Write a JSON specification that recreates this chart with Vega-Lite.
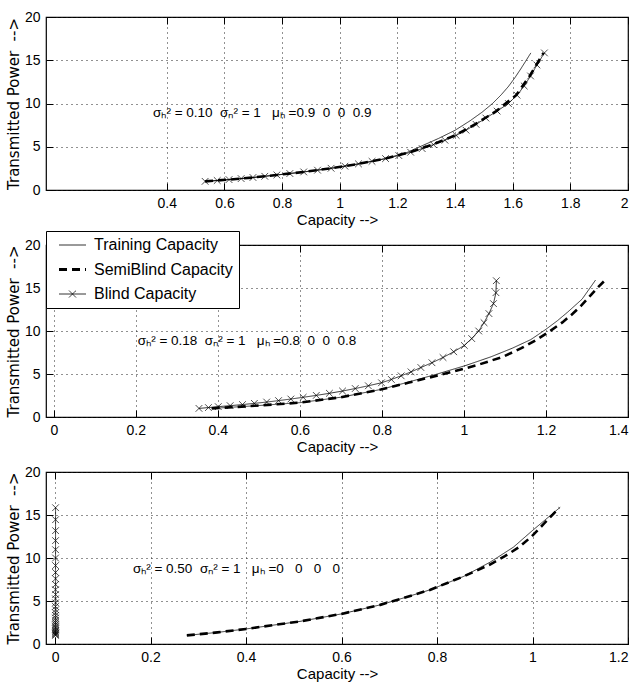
{
  "$schema": "https://vega.github.io/schema/vega-lite/v6.json",
  "background": "white",
  "padding": {"left": 5, "top": 9, "right": 2, "bottom": 2},
  "datasets": {
    "curves": [
      {"panel":1,"series":"Blind Capacity","C":0.533,"P":1},
      {"panel":1,"series":"Blind Capacity","C":0.575,"P":1.096},
      {"panel":1,"series":"Blind Capacity","C":0.616,"P":1.202},
      {"panel":1,"series":"Blind Capacity","C":0.658,"P":1.318},
      {"panel":1,"series":"Blind Capacity","C":0.699,"P":1.445},
      {"panel":1,"series":"Blind Capacity","C":0.740,"P":1.585},
      {"panel":1,"series":"Blind Capacity","C":0.782,"P":1.738},
      {"panel":1,"series":"Blind Capacity","C":0.827,"P":1.905},
      {"panel":1,"series":"Blind Capacity","C":0.875,"P":2.089},
      {"panel":1,"series":"Blind Capacity","C":0.923,"P":2.291},
      {"panel":1,"series":"Blind Capacity","C":0.970,"P":2.512},
      {"panel":1,"series":"Blind Capacity","C":1.018,"P":2.754},
      {"panel":1,"series":"Blind Capacity","C":1.065,"P":3.02},
      {"panel":1,"series":"Blind Capacity","C":1.112,"P":3.311},
      {"panel":1,"series":"Blind Capacity","C":1.159,"P":3.631},
      {"panel":1,"series":"Blind Capacity","C":1.205,"P":3.981},
      {"panel":1,"series":"Blind Capacity","C":1.246,"P":4.365},
      {"panel":1,"series":"Blind Capacity","C":1.286,"P":4.786},
      {"panel":1,"series":"Blind Capacity","C":1.325,"P":5.248},
      {"panel":1,"series":"Blind Capacity","C":1.365,"P":5.754},
      {"panel":1,"series":"Blind Capacity","C":1.404,"P":6.31},
      {"panel":1,"series":"Blind Capacity","C":1.438,"P":6.918},
      {"panel":1,"series":"Blind Capacity","C":1.473,"P":7.586},
      {"panel":1,"series":"Blind Capacity","C":1.507,"P":8.318},
      {"panel":1,"series":"Blind Capacity","C":1.546,"P":9.12},
      {"panel":1,"series":"Blind Capacity","C":1.585,"P":10},
      {"panel":1,"series":"Blind Capacity","C":1.615,"P":10.965},
      {"panel":1,"series":"Blind Capacity","C":1.640,"P":12.023},
      {"panel":1,"series":"Blind Capacity","C":1.662,"P":13.183},
      {"panel":1,"series":"Blind Capacity","C":1.684,"P":14.454},
      {"panel":1,"series":"Blind Capacity","C":1.710,"P":15.849},
      {"panel":1,"series":"SemiBlind Capacity","C":0.533,"P":1},
      {"panel":1,"series":"SemiBlind Capacity","C":0.616,"P":1.202},
      {"panel":1,"series":"SemiBlind Capacity","C":0.699,"P":1.445},
      {"panel":1,"series":"SemiBlind Capacity","C":0.782,"P":1.738},
      {"panel":1,"series":"SemiBlind Capacity","C":0.875,"P":2.089},
      {"panel":1,"series":"SemiBlind Capacity","C":0.970,"P":2.512},
      {"panel":1,"series":"SemiBlind Capacity","C":1.065,"P":3.02},
      {"panel":1,"series":"SemiBlind Capacity","C":1.159,"P":3.631},
      {"panel":1,"series":"SemiBlind Capacity","C":1.244,"P":4.365},
      {"panel":1,"series":"SemiBlind Capacity","C":1.322,"P":5.248},
      {"panel":1,"series":"SemiBlind Capacity","C":1.400,"P":6.31},
      {"panel":1,"series":"SemiBlind Capacity","C":1.469,"P":7.586},
      {"panel":1,"series":"SemiBlind Capacity","C":1.543,"P":9.12},
      {"panel":1,"series":"SemiBlind Capacity","C":1.612,"P":10.965},
      {"panel":1,"series":"SemiBlind Capacity","C":1.659,"P":13.183},
      {"panel":1,"series":"SemiBlind Capacity","C":1.707,"P":15.849},
      {"panel":1,"series":"Training Capacity","C":0.533,"P":1},
      {"panel":1,"series":"Training Capacity","C":0.616,"P":1.202},
      {"panel":1,"series":"Training Capacity","C":0.699,"P":1.445},
      {"panel":1,"series":"Training Capacity","C":0.782,"P":1.738},
      {"panel":1,"series":"Training Capacity","C":0.875,"P":2.089},
      {"panel":1,"series":"Training Capacity","C":0.970,"P":2.512},
      {"panel":1,"series":"Training Capacity","C":1.065,"P":3.02},
      {"panel":1,"series":"Training Capacity","C":1.159,"P":3.631},
      {"panel":1,"series":"Training Capacity","C":1.235,"P":4.365},
      {"panel":1,"series":"Training Capacity","C":1.278,"P":5.0},
      {"panel":1,"series":"Training Capacity","C":1.342,"P":5.95},
      {"panel":1,"series":"Training Capacity","C":1.400,"P":6.9},
      {"panel":1,"series":"Training Capacity","C":1.452,"P":8.0},
      {"panel":1,"series":"Training Capacity","C":1.494,"P":9.0},
      {"panel":1,"series":"Training Capacity","C":1.530,"P":10.0},
      {"panel":1,"series":"Training Capacity","C":1.560,"P":11.0},
      {"panel":1,"series":"Training Capacity","C":1.586,"P":12.0},
      {"panel":1,"series":"Training Capacity","C":1.608,"P":13.0},
      {"panel":1,"series":"Training Capacity","C":1.628,"P":14.0},
      {"panel":1,"series":"Training Capacity","C":1.647,"P":15.0},
      {"panel":1,"series":"Training Capacity","C":1.663,"P":15.85},
      {"panel":2,"series":"Blind Capacity","C":0.354,"P":1},
      {"panel":2,"series":"Blind Capacity","C":0.377,"P":1.096},
      {"panel":2,"series":"Blind Capacity","C":0.401,"P":1.202},
      {"panel":2,"series":"Blind Capacity","C":0.430,"P":1.318},
      {"panel":2,"series":"Blind Capacity","C":0.460,"P":1.445},
      {"panel":2,"series":"Blind Capacity","C":0.489,"P":1.585},
      {"panel":2,"series":"Blind Capacity","C":0.519,"P":1.738},
      {"panel":2,"series":"Blind Capacity","C":0.548,"P":1.905},
      {"panel":2,"series":"Blind Capacity","C":0.578,"P":2.089},
      {"panel":2,"series":"Blind Capacity","C":0.608,"P":2.291},
      {"panel":2,"series":"Blind Capacity","C":0.640,"P":2.512},
      {"panel":2,"series":"Blind Capacity","C":0.672,"P":2.754},
      {"panel":2,"series":"Blind Capacity","C":0.704,"P":3.02},
      {"panel":2,"series":"Blind Capacity","C":0.735,"P":3.311},
      {"panel":2,"series":"Blind Capacity","C":0.767,"P":3.631},
      {"panel":2,"series":"Blind Capacity","C":0.799,"P":3.981},
      {"panel":2,"series":"Blind Capacity","C":0.823,"P":4.365},
      {"panel":2,"series":"Blind Capacity","C":0.847,"P":4.786},
      {"panel":2,"series":"Blind Capacity","C":0.871,"P":5.248},
      {"panel":2,"series":"Blind Capacity","C":0.895,"P":5.754},
      {"panel":2,"series":"Blind Capacity","C":0.922,"P":6.31},
      {"panel":2,"series":"Blind Capacity","C":0.949,"P":6.918},
      {"panel":2,"series":"Blind Capacity","C":0.975,"P":7.586},
      {"panel":2,"series":"Blind Capacity","C":1.001,"P":8.318},
      {"panel":2,"series":"Blind Capacity","C":1.019,"P":9.12},
      {"panel":2,"series":"Blind Capacity","C":1.036,"P":10},
      {"panel":2,"series":"Blind Capacity","C":1.049,"P":10.965},
      {"panel":2,"series":"Blind Capacity","C":1.061,"P":12.023},
      {"panel":2,"series":"Blind Capacity","C":1.072,"P":13.183},
      {"panel":2,"series":"Blind Capacity","C":1.078,"P":14.454},
      {"panel":2,"series":"Blind Capacity","C":1.079,"P":15.849},
      {"panel":2,"series":"Training Capacity","C":0.385,"P":1},
      {"panel":2,"series":"Training Capacity","C":0.490,"P":1.3},
      {"panel":2,"series":"Training Capacity","C":0.600,"P":1.67},
      {"panel":2,"series":"Training Capacity","C":0.700,"P":2.3},
      {"panel":2,"series":"Training Capacity","C":0.797,"P":3.2},
      {"panel":2,"series":"Training Capacity","C":0.860,"P":4.0},
      {"panel":2,"series":"Training Capacity","C":0.935,"P":5.0},
      {"panel":2,"series":"Training Capacity","C":1.005,"P":6.0},
      {"panel":2,"series":"Training Capacity","C":1.066,"P":7.0},
      {"panel":2,"series":"Training Capacity","C":1.118,"P":8.0},
      {"panel":2,"series":"Training Capacity","C":1.163,"P":9.0},
      {"panel":2,"series":"Training Capacity","C":1.200,"P":10.2},
      {"panel":2,"series":"Training Capacity","C":1.228,"P":11.2},
      {"panel":2,"series":"Training Capacity","C":1.253,"P":12.2},
      {"panel":2,"series":"Training Capacity","C":1.288,"P":13.7},
      {"panel":2,"series":"Training Capacity","C":1.321,"P":15.93},
      {"panel":2,"series":"SemiBlind Capacity","C":0.385,"P":1},
      {"panel":2,"series":"SemiBlind Capacity","C":0.490,"P":1.3},
      {"panel":2,"series":"SemiBlind Capacity","C":0.600,"P":1.67},
      {"panel":2,"series":"SemiBlind Capacity","C":0.700,"P":2.3},
      {"panel":2,"series":"SemiBlind Capacity","C":0.797,"P":3.2},
      {"panel":2,"series":"SemiBlind Capacity","C":0.866,"P":4.0},
      {"panel":2,"series":"SemiBlind Capacity","C":0.950,"P":5.0},
      {"panel":2,"series":"SemiBlind Capacity","C":1.030,"P":6.0},
      {"panel":2,"series":"SemiBlind Capacity","C":1.095,"P":7.0},
      {"panel":2,"series":"SemiBlind Capacity","C":1.140,"P":8.0},
      {"panel":2,"series":"SemiBlind Capacity","C":1.178,"P":9.0},
      {"panel":2,"series":"SemiBlind Capacity","C":1.210,"P":10.0},
      {"panel":2,"series":"SemiBlind Capacity","C":1.240,"P":11.0},
      {"panel":2,"series":"SemiBlind Capacity","C":1.265,"P":12.0},
      {"panel":2,"series":"SemiBlind Capacity","C":1.287,"P":13.0},
      {"panel":2,"series":"SemiBlind Capacity","C":1.306,"P":14.0},
      {"panel":2,"series":"SemiBlind Capacity","C":1.325,"P":15.0},
      {"panel":2,"series":"SemiBlind Capacity","C":1.343,"P":15.85},
      {"panel":3,"series":"Blind Capacity","C":0.0009,"P":1},
      {"panel":3,"series":"Blind Capacity","C":0.0011,"P":1.096},
      {"panel":3,"series":"Blind Capacity","C":0.0009,"P":1.202},
      {"panel":3,"series":"Blind Capacity","C":0.0011,"P":1.318},
      {"panel":3,"series":"Blind Capacity","C":0.0009,"P":1.445},
      {"panel":3,"series":"Blind Capacity","C":0.0011,"P":1.585},
      {"panel":3,"series":"Blind Capacity","C":0.0009,"P":1.738},
      {"panel":3,"series":"Blind Capacity","C":0.0011,"P":1.905},
      {"panel":3,"series":"Blind Capacity","C":0.0009,"P":2.089},
      {"panel":3,"series":"Blind Capacity","C":0.0011,"P":2.291},
      {"panel":3,"series":"Blind Capacity","C":0.0009,"P":2.512},
      {"panel":3,"series":"Blind Capacity","C":0.0011,"P":2.754},
      {"panel":3,"series":"Blind Capacity","C":0.0009,"P":3.02},
      {"panel":3,"series":"Blind Capacity","C":0.0011,"P":3.311},
      {"panel":3,"series":"Blind Capacity","C":0.0009,"P":3.631},
      {"panel":3,"series":"Blind Capacity","C":0.0011,"P":3.981},
      {"panel":3,"series":"Blind Capacity","C":0.0009,"P":4.365},
      {"panel":3,"series":"Blind Capacity","C":0.0011,"P":4.786},
      {"panel":3,"series":"Blind Capacity","C":0.0009,"P":5.248},
      {"panel":3,"series":"Blind Capacity","C":0.0011,"P":5.754},
      {"panel":3,"series":"Blind Capacity","C":0.0009,"P":6.31},
      {"panel":3,"series":"Blind Capacity","C":0.0011,"P":6.918},
      {"panel":3,"series":"Blind Capacity","C":0.0010,"P":7.586},
      {"panel":3,"series":"Blind Capacity","C":0.0010,"P":8.318},
      {"panel":3,"series":"Blind Capacity","C":0.0010,"P":9.12},
      {"panel":3,"series":"Blind Capacity","C":0.0010,"P":10},
      {"panel":3,"series":"Blind Capacity","C":0.0010,"P":10.965},
      {"panel":3,"series":"Blind Capacity","C":0.0010,"P":12.023},
      {"panel":3,"series":"Blind Capacity","C":0.0010,"P":13.183},
      {"panel":3,"series":"Blind Capacity","C":0.0010,"P":14.454},
      {"panel":3,"series":"Blind Capacity","C":0.0010,"P":15.849},
      {"panel":3,"series":"Training Capacity","C":0.276,"P":1},
      {"panel":3,"series":"Training Capacity","C":0.340,"P":1.35},
      {"panel":3,"series":"Training Capacity","C":0.400,"P":1.75},
      {"panel":3,"series":"Training Capacity","C":0.513,"P":2.63},
      {"panel":3,"series":"Training Capacity","C":0.600,"P":3.5},
      {"panel":3,"series":"Training Capacity","C":0.681,"P":4.55},
      {"panel":3,"series":"Training Capacity","C":0.723,"P":5.24},
      {"panel":3,"series":"Training Capacity","C":0.785,"P":6.29},
      {"panel":3,"series":"Training Capacity","C":0.855,"P":7.84},
      {"panel":3,"series":"Training Capacity","C":0.911,"P":9.51},
      {"panel":3,"series":"Training Capacity","C":0.960,"P":11.26},
      {"panel":3,"series":"Training Capacity","C":1.000,"P":13.2},
      {"panel":3,"series":"Training Capacity","C":1.058,"P":15.9},
      {"panel":3,"series":"SemiBlind Capacity","C":0.276,"P":1},
      {"panel":3,"series":"SemiBlind Capacity","C":0.340,"P":1.35},
      {"panel":3,"series":"SemiBlind Capacity","C":0.400,"P":1.75},
      {"panel":3,"series":"SemiBlind Capacity","C":0.513,"P":2.63},
      {"panel":3,"series":"SemiBlind Capacity","C":0.600,"P":3.5},
      {"panel":3,"series":"SemiBlind Capacity","C":0.681,"P":4.55},
      {"panel":3,"series":"SemiBlind Capacity","C":0.723,"P":5.24},
      {"panel":3,"series":"SemiBlind Capacity","C":0.785,"P":6.29},
      {"panel":3,"series":"SemiBlind Capacity","C":0.855,"P":7.84},
      {"panel":3,"series":"SemiBlind Capacity","C":0.911,"P":9.24},
      {"panel":3,"series":"SemiBlind Capacity","C":0.942,"P":10.21},
      {"panel":3,"series":"SemiBlind Capacity","C":0.972,"P":11.26},
      {"panel":3,"series":"SemiBlind Capacity","C":0.998,"P":12.5},
      {"panel":3,"series":"SemiBlind Capacity","C":1.024,"P":13.99},
      {"panel":3,"series":"SemiBlind Capacity","C":1.056,"P":15.85}
    ],
    "notes": [
      {"panel":1,"C":0.3525,"P":8.9,"label":"σₕ² = 0.10\u00a0 σₙ² = 1\u00a0\u00a0 μₕ =0.9\u00a0 0\u00a0 0\u00a0 0.9"},
      {"panel":2,"C":0.205,"P":8.8,"label":"σₕ² = 0.18\u00a0 σₙ² = 1\u00a0\u00a0 μₕ =0.8\u00a0 0\u00a0 0\u00a0 0.8"},
      {"panel":3,"C":0.163,"P":8.7,"label":"σₕ² = 0.50\u00a0 σₙ² = 1\u00a0\u00a0 μₕ =0\u00a0\u00a0 0\u00a0\u00a0 0\u00a0\u00a0 0"}
    ]
  },
  "config": {
    "view": {"stroke": "black", "strokeWidth": 1.2},
    "axis": {
      "domain": false,
      "labelFont": "Liberation Sans, Arial, sans-serif",
      "labelFontSize": 14,
      "labelColor": "black",
      "labelPadding": 13,
      "tickSize": -7,
      "tickColor": "black",
      "tickWidth": 1,
      "gridColor": "#222",
      "gridDash": [1, 4],
      "gridOpacity": 1,
      "gridWidth": 1,
      "titleFont": "Liberation Sans, Arial, sans-serif",
      "titleFontSize": 15,
      "titleFontWeight": "normal",
      "titleColor": "black"
    },
    "axisX": {"titlePadding": 2},
    "axisY": {"titleFont": "DejaVu Sans", "titleFontSize": 15, "titlePadding": 3}
  },
  "spacing": 55,
  "bounds": "flush",
  "resolve": {"scale": {"strokeDash": "independent"}, "legend": {"strokeDash": "independent"}},
  "vconcat": [
    {
      "width": 582, "height": 173,
      "resolve": {"axis": {"x": "independent", "y": "independent"}},
      "layer": [
        {
          "data": {"name": "curves"},
          "transform": [{"filter": "datum.panel == 1"}],
          "mark": {"type": "line", "color": "black"},
          "encoding": {
            "x": {"field": "C", "type": "quantitative", "scale": {"domain": [-0.019, 2], "nice": false, "zero": false}, "axis": {"values": [0.4, 0.6, 0.8, 1, 1.2, 1.4, 1.6, 1.8, 2], "format": "~g", "title": "Capacity -->", "grid": true}},
            "y": {"field": "P", "type": "quantitative", "scale": {"domain": [0, 20], "nice": false}, "axis": {"values": [0, 5, 10, 15, 20], "title": "Transmitted Power \u00a0-->", "grid": true}},
            "strokeDash": {"field": "series", "type": "nominal", "scale": {"domain": ["Training Capacity", "SemiBlind Capacity", "Blind Capacity"], "range": [[1, 0], [8, 5], [1, 0]]}, "legend": null},
            "strokeWidth": {"condition": {"test": "datum.series === 'SemiBlind Capacity'", "value": 2.6}, "value": 0.8},
            "order": {"field": "P", "type": "quantitative"}
          }
        },
        {
          "data": {"name": "curves"},
          "transform": [{"filter": "datum.panel == 1 && datum.series === 'Blind Capacity'"}],
          "mark": {"type": "point", "shape": "M-1,-1L1,1M-1,1L1,-1", "size": 45, "filled": false, "color": "black", "strokeWidth": 0.7, "opacity": 1},
          "encoding": {
            "x": {"field": "C", "type": "quantitative", "axis": null},
            "y": {"field": "P", "type": "quantitative", "axis": null}
          }
        },
        {
          "data": {"name": "notes"},
          "transform": [{"filter": "datum.panel == 1"}],
          "mark": {"type": "text", "align": "left", "baseline": "middle", "fontSize": 13.5, "font": "Liberation Sans, Arial, sans-serif", "color": "black"},
          "encoding": {
            "x": {"field": "C", "type": "quantitative", "axis": null},
            "y": {"field": "P", "type": "quantitative", "axis": null},
            "text": {"field": "label"}
          }
        },
        {
          "data": {"name": "curves"},
          "transform": [{"filter": "datum.panel == 1"}],
          "mark": {"type": "point", "opacity": 0},
          "encoding": {
            "x": {"field": "C", "type": "quantitative", "axis": {"orient": "top", "values": [0.4, 0.6, 0.8, 1, 1.2, 1.4, 1.6, 1.8, 2], "labels": false, "title": null, "grid": false}},
            "y": {"field": "P", "type": "quantitative", "axis": {"orient": "right", "values": [0, 5, 10, 15, 20], "labels": false, "title": null, "grid": false}}
          }
        }
      ]
    },
    {
      "width": 582, "height": 172,
      "resolve": {"axis": {"x": "independent", "y": "independent"}},
      "layer": [
        {
          "data": {"name": "curves"},
          "transform": [{"filter": "datum.panel == 2"}],
          "mark": {"type": "line", "color": "black"},
          "encoding": {
            "x": {"field": "C", "type": "quantitative", "scale": {"domain": [-0.019, 1.4], "nice": false, "zero": false}, "axis": {"values": [0, 0.2, 0.4, 0.6, 0.8, 1, 1.2, 1.4], "format": "~g", "title": "Capacity -->", "grid": true}},
            "y": {"field": "P", "type": "quantitative", "scale": {"domain": [0, 20], "nice": false}, "axis": {"values": [0, 5, 10, 15, 20], "title": "Transmitted Power \u00a0-->", "grid": true}},
            "strokeDash": {"field": "series", "type": "nominal", "scale": {"domain": ["Training Capacity", "SemiBlind Capacity", "Blind Capacity"], "range": [[1, 0], [8, 5], [1, 0]]},
              "legend": {
                "orient": "none", "legendX": 0, "legendY": -14, "title": null,
                "padding": 6, "strokeColor": "black", "fillColor": "white",
                "labelFont": "Liberation Sans, Arial, sans-serif",
                "labelFontSize": 16, "labelColor": "black", "labelOffset": 26, "labelLimit": 400,
                "symbolSize": 400, "rowPadding": 8.5, "symbolStrokeColor": "black", "symbolFillColor": "transparent",
                "encode": {"symbols": {"update": {
                  "shape": {"signal": "datum.value === 'Blind Capacity' ? 'M-0.1,0H2.6M0.9,-0.35L1.6,0.35M0.9,0.35L1.6,-0.35' : 'M-0.1,0H2.6'"},
                  "strokeWidth": {"signal": "datum.value === 'SemiBlind Capacity' ? 3 : 0.8"},
                  "strokeDash": {"signal": "datum.value === 'SemiBlind Capacity' ? [11, 4] : [1, 0]"},
                  "stroke": {"value": "black"},
                  "fill": {"value": "transparent"}
                }}}
              }},
            "strokeWidth": {"condition": {"test": "datum.series === 'SemiBlind Capacity'", "value": 2.6}, "value": 0.8},
            "order": {"field": "P", "type": "quantitative"}
          }
        },
        {
          "data": {"name": "curves"},
          "transform": [{"filter": "datum.panel == 2 && datum.series === 'Blind Capacity'"}],
          "mark": {"type": "point", "shape": "M-1,-1L1,1M-1,1L1,-1", "size": 45, "filled": false, "color": "black", "strokeWidth": 0.7, "opacity": 1},
          "encoding": {
            "x": {"field": "C", "type": "quantitative", "axis": null},
            "y": {"field": "P", "type": "quantitative", "axis": null}
          }
        },
        {
          "data": {"name": "notes"},
          "transform": [{"filter": "datum.panel == 2"}],
          "mark": {"type": "text", "align": "left", "baseline": "middle", "fontSize": 13.5, "font": "Liberation Sans, Arial, sans-serif", "color": "black"},
          "encoding": {
            "x": {"field": "C", "type": "quantitative", "axis": null},
            "y": {"field": "P", "type": "quantitative", "axis": null},
            "text": {"field": "label"}
          }
        },
        {
          "data": {"name": "curves"},
          "transform": [{"filter": "datum.panel == 2"}],
          "mark": {"type": "point", "opacity": 0},
          "encoding": {
            "x": {"field": "C", "type": "quantitative", "axis": {"orient": "top", "values": [0, 0.2, 0.4, 0.6, 0.8, 1, 1.2, 1.4], "labels": false, "title": null, "grid": false}},
            "y": {"field": "P", "type": "quantitative", "axis": {"orient": "right", "values": [0, 5, 10, 15, 20], "labels": false, "title": null, "grid": false}}
          }
        }
      ]
    },
    {
      "width": 582, "height": 172,
      "resolve": {"axis": {"x": "independent", "y": "independent"}},
      "layer": [
        {
          "data": {"name": "curves"},
          "transform": [{"filter": "datum.panel == 3"}],
          "mark": {"type": "line", "color": "black"},
          "encoding": {
            "x": {"field": "C", "type": "quantitative", "scale": {"domain": [-0.019, 1.2], "nice": false, "zero": false}, "axis": {"values": [0, 0.2, 0.4, 0.6, 0.8, 1, 1.2], "format": "~g", "title": "Capacity -->", "grid": true}},
            "y": {"field": "P", "type": "quantitative", "scale": {"domain": [0, 20], "nice": false}, "axis": {"values": [0, 5, 10, 15, 20], "title": "Transmitted Power \u00a0-->", "grid": true}},
            "strokeDash": {"field": "series", "type": "nominal", "scale": {"domain": ["Training Capacity", "SemiBlind Capacity", "Blind Capacity"], "range": [[1, 0], [8, 5], [1, 0]]}, "legend": null},
            "strokeWidth": {"condition": {"test": "datum.series === 'SemiBlind Capacity'", "value": 2.6}, "value": 0.8},
            "order": {"field": "P", "type": "quantitative"}
          }
        },
        {
          "data": {"name": "curves"},
          "transform": [{"filter": "datum.panel == 3 && datum.series === 'Blind Capacity'"}],
          "mark": {"type": "point", "shape": "M-1,-1L1,1M-1,1L1,-1", "size": 45, "filled": false, "color": "black", "strokeWidth": 0.7, "opacity": 1},
          "encoding": {
            "x": {"field": "C", "type": "quantitative", "axis": null},
            "y": {"field": "P", "type": "quantitative", "axis": null}
          }
        },
        {
          "data": {"name": "notes"},
          "transform": [{"filter": "datum.panel == 3"}],
          "mark": {"type": "text", "align": "left", "baseline": "middle", "fontSize": 13.5, "font": "Liberation Sans, Arial, sans-serif", "color": "black"},
          "encoding": {
            "x": {"field": "C", "type": "quantitative", "axis": null},
            "y": {"field": "P", "type": "quantitative", "axis": null},
            "text": {"field": "label"}
          }
        },
        {
          "data": {"name": "curves"},
          "transform": [{"filter": "datum.panel == 3"}],
          "mark": {"type": "point", "opacity": 0},
          "encoding": {
            "x": {"field": "C", "type": "quantitative", "axis": {"orient": "top", "values": [0, 0.2, 0.4, 0.6, 0.8, 1, 1.2], "labels": false, "title": null, "grid": false}},
            "y": {"field": "P", "type": "quantitative", "axis": {"orient": "right", "values": [0, 5, 10, 15, 20], "labels": false, "title": null, "grid": false}}
          }
        }
      ]
    }
  ]
}
